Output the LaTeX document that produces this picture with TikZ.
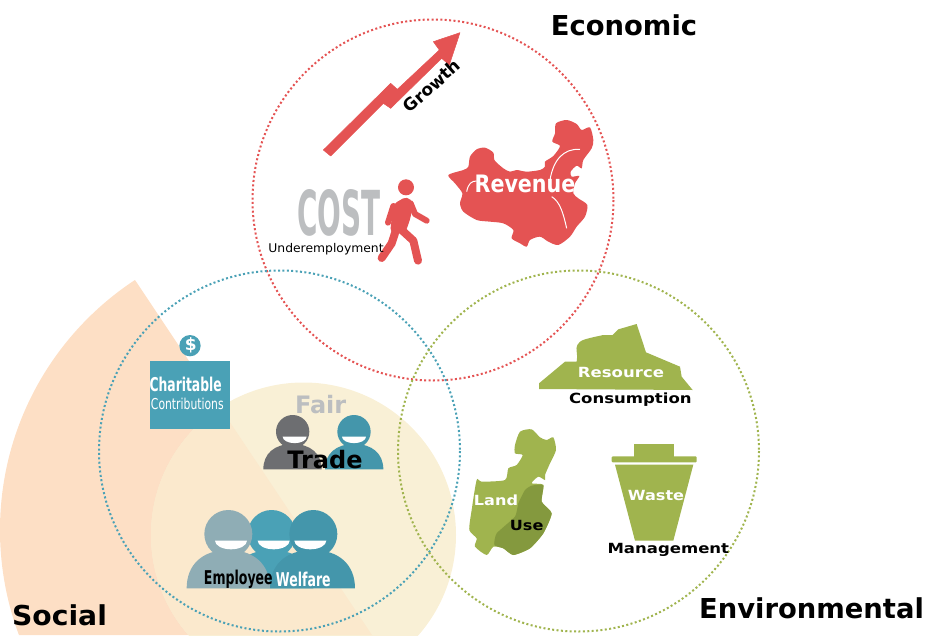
\documentclass[tikz,border=0pt]{standalone}
\usepackage{fontspec}
\setmainfont{DejaVu Sans}
\definecolor{redc}{HTML}{E45353}
\definecolor{bluec}{HTML}{4AA1B6}
\definecolor{blued}{HTML}{4496AB}
\definecolor{greyb}{HTML}{8FADB5}
\definecolor{greend}{HTML}{84993E}
\definecolor{greenc}{HTML}{A0B44E}
\definecolor{orangec}{HTML}{FDDFC5}
\definecolor{beigec}{HTML}{F9F0D6}
\definecolor{overlapc}{HTML}{FBE9CD}
\definecolor{greyt}{HTML}{BCBEC0}
\definecolor{greyd}{HTML}{6D6E71}
\newcommand\fsz[1]{\fontsize{#1}{#1}\selectfont}
\newcommand\sx[2]{\scalebox{#1}[1]{#2}}
\newcommand\shoulders[5]{%
 \pgfmathsetmacro\psmx{(#2+#3)/2}\pgfmathsetmacro\pskx{(#3-#2)/2*.62}\pgfmathsetmacro\psky{(#5-#4)*.62}%
 \fill[#1] (#2,#5) .. controls (#2,#5-\psky) and (\psmx-\pskx,#4) .. (\psmx,#4) .. controls (\psmx+\pskx,#4) and (#3,#5-\psky) .. (#3,#5) -- cycle;}
\newcommand\grin[3]{% left, right, flat y; depth follows the width
 \pgfmathsetmacro\psmx{(#1+#2)/2}\pgfmathsetmacro\psd{(#2-#1)*.27}\pgfmathsetmacro\pskx{(#2-#1)/2*.5523}\pgfmathsetmacro\psky{\psd*.5523}%
 \fill[white] (#1,#3) .. controls (#1,#3+\psky) and (\psmx-\pskx,#3+\psd) .. (\psmx,#3+\psd) .. controls (\psmx+\pskx,#3+\psd) and (#2,#3+\psky) .. (#2,#3) -- cycle;}
\tikzset{
 ringc/.style={draw=#1,line width=2pt,dash pattern=on 2pt off 2.4pt},
 zone/.style={inner sep=0pt,outer sep=0pt},
 headt/.style={zone,font=\bfseries\fsz{27.4}},
 zoomA/.style={shift={(300,20)},x=.33333pt,y=-.33333pt},
 zoomB/.style={shift={(130,330)},x=.33333pt,y=-.33333pt},
 zoomC/.style={shift={(460,320)},x=.33333pt,y=-.33333pt},
}
\begin{document}
\begin{tikzpicture}[x=1pt,y=-1pt]
\useasboundingbox (0,0) rectangle (927,635);
\clip (0,0) rectangle (927,635);
% background
\begin{scope}
 \clip (135,280) -- (372,635) -- (-5,635) -- (-5,280) -- cycle;
 \fill[orangec] (299,530) circle[radius=299];
\end{scope}
\fill[beigec] (303.5,535) circle[radius=152.5];
\begin{scope}
 \clip (135,280) -- (372,635) -- (-5,635) -- (-5,280) -- cycle;
 \clip (299,530) circle[radius=299];
 \fill[overlapc] (303.5,535) circle[radius=152.5];
\end{scope}
% rings
\draw[ringc=redc] (433,200) circle[radius=180.5];
\draw[ringc=bluec] (279.5,451) circle[radius=180.5];
\draw[ringc=greenc] (578.5,451) circle[radius=180.5];
% headings
\node[headt] (econ) at (624,25) {Economic};
\node[headt] (soc) at (59.5,615) {\sx{1.03}{Social}};
\node[headt] (env) at (811.5,608) {Environmental};
% economic
\begin{scope}[zoomA]
 \filldraw[fill=redc,draw=redc,line width=.5pt,line join=round] (70,390) -- (272,190) -- (292,208) -- (418,90) -- (400,65) -- (480,38) -- (448,135) -- (425,115) -- (272,265) -- (250,250) -- (92,408) -- cycle;
 \fill[redc] plot[smooth cycle,tension=.45] coordinates {(445,465) (490,450) (505,440) (510,410) (530,388) (555,383) (580,398) (583,420) (610,445) (630,455) (650,450) (680,455) (720,450) (735,440) (735,425) (760,408) (780,378) (757,365) (765,340) (768,310) (800,300) (830,312) (845,330) (870,322) (880,360) (875,385) (850,420) (845,445) (830,437) (812,455) (815,470) (838,468) (825,490) (820,520) (835,535) (862,555) (855,590) (830,620) (810,650) (775,675) (745,665) (720,650) (690,660) (680,680) (660,670) (635,655) (640,630) (610,610) (570,605) (530,600) (490,575) (480,550) (487,520) (465,490)};
 \draw[white,line width=1pt] (750,480) .. controls (760,420) and (790,385) .. (840,388);
 \draw[white,line width=1pt] (755,530) .. controls (780,545) and (790,580) .. (800,625);
 \draw[white,line width=1pt] (500,515) .. controls (505,490) and (515,483) .. (530,483);
 \fill[redc] (318,502) circle[radius=24];
 \fill[redc,rounded corners=5pt] (280,552) -- (322,528) -- (340,550) -- (330,600) -- (315,640) -- (270,640) -- cycle;
 \draw[redc,line width=6pt,line cap=round,line join=round] (332,550) -- (345,582) -- (380,602);
 \draw[redc,line width=6pt,line cap=round,line join=round] (280,558) -- (264,608);
 \draw[redc,line width=8pt,line cap=round,line join=round] (288,630) -- (275,670) -- (245,714);
 \draw[redc,line width=8pt,line cap=round,line join=round] (305,630) -- (340,662) -- (354,722);
 \node[zone,font=\bfseries\fsz{24},text=white] (rev) at (675,493) {\sx{.86}{Revenue}};
 \node[zone,font=\bfseries\fsz{17},rotate=41.6] (grow) at (395,197) {Growth};
\end{scope}
\node[zone,font=\bfseries\fsz{62},text=greyt] (cost) at (339,213) {\sx{.45}{COST}};
\node[zone,font=\fsz{12}] (under) at (326,249) {\sx{1.03}{Underemployment}};
% social
\begin{scope}[zoomB]
 \fill[bluec] (180,47) circle[radius=32];
 \node[zone,font=\bfseries\fsz{17},text=white] (dollar) at (182,47) {\$};
 \fill[bluec] (60,92) rectangle (300,298);
 \node[zone,font=\bfseries\fsz{19},text=white] (char) at (167,163) {\sx{.65}{Charitable}};
 \node[zone,font=\fsz{15},text=white] (contr) at (172,222) {\sx{.72}{Contributions}};
 \fill[greyd] (488,305) circle[radius=50];
 \shoulders{greyd}{400}{575}{342}{418}
 \grin{458}{530}{320}
 \fill[blued] (672,305) circle[radius=50];
 \shoulders{blued}{585}{760}{342}{418}
 \grin{636}{708}{320}
 \node[zone,font=\bfseries\fsz{24},text=greyt] (fair) at (572,225) {Fair};
 \node[zone,font=\bfseries\fsz{24}] (trade) at (585,388) {Trade};
 \fill[bluec] (425,612) circle[radius=72];
 \shoulders{bluec}{300}{550}{660}{775}
 \grin{383}{479}{632}
 \fill[greyb] (295,612) circle[radius=72];
 \shoulders{greyb}{170}{420}{660}{775}
 \grin{255}{351}{632}
 \fill[blued] (550,612) circle[radius=72];
 \shoulders{blued}{420}{675}{660}{775}
 \grin{493}{589}{632}
 \node[zone,font=\bfseries\fsz{19}] (emp) at (325,748) {\sx{.66}{Employee}};
 \node[zone,font=\bfseries\fsz{19},text=white] (wel) at (520,748) {\sx{.66}{Welfare}};
\end{scope}
% environmental
\begin{scope}[zoomC]
 \fill[greenc] (237,190) -- (315,125) -- (350,125) .. controls (355,105) and (345,85) .. (352,75) .. controls (360,60) and (370,58) .. (430,45) -- (458,45) -- (475,28) -- (530,12) -- (558,97) -- (660,140) -- (665,170) -- (698,210) -- (237,207) -- cycle;
 \node[zone,font=\bfseries\fsz{14},text=white] (res) at (483,157) {\sx{1.18}{Resource}};
 \node[zone,font=\bfseries\fsz{14}] (cons) at (511,240) {\sx{1.18}{Consumption}};
 \fill[greenc] plot[smooth cycle,tension=.4] coordinates {(180,335) (215,328) (240,352) (260,360) (280,352) (288,390) (270,430) (255,465) (255,480) (235,470) (215,490) (250,495) (245,545) (275,580) (250,640) (210,685) (160,705) (130,685) (100,680) (80,705) (45,680) (50,655) (28,630) (35,570) (50,480) (65,485) (135,480) (145,445) (170,435) (188,405) (165,400) (165,375)};
 \fill[greend] plot[smooth cycle,tension=.3] coordinates {(215,497) (250,495) (245,545) (275,580) (250,640) (210,685) (160,705) (130,685) (103,675) (110,640) (165,590) (175,550) (195,510)};
 \node[zone,font=\bfseries\fsz{14},text=white] (land) at (108,541) {\sx{1.15}{Land}};
 \node[zone,font=\bfseries\fsz{14}] (use) at (200,617) {\sx{1.15}{Use}};
 \fill[greenc] (523,372) rectangle (642,410);
 \fill[greenc,rounded corners=1pt] (455,409) rectangle (710,427);
 \fill[greenc] (465,434) -- (700,434) -- (640,662) -- (525,662) -- cycle;
 \node[zone,font=\bfseries\fsz{14},text=white] (waste) at (588,527) {\sx{1.15}{Waste}};
 \node[zone,font=\bfseries\fsz{14}] (mgmt) at (625,690) {\sx{1.18}{Management}};
\end{scope}
\end{tikzpicture}
\end{document}
